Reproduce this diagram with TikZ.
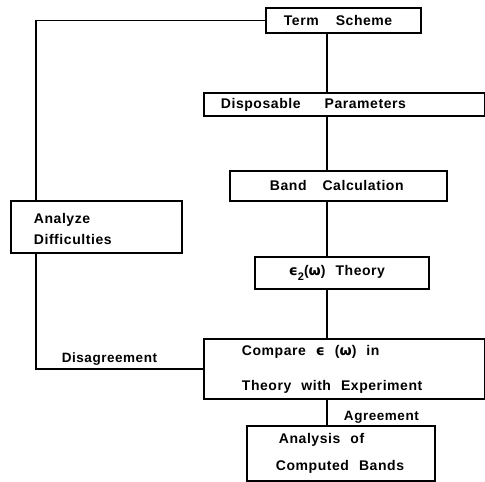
\documentclass[tikz,border=0pt]{standalone}
\usepackage{fontspec}
\setmainfont{Liberation Sans}[LetterSpace=4]
\newfontfamily\grk{DejaVu Sans}
\newcommand\widesp{\spaceskip=10pt plus 2pt\relax}
\newcommand\subtwo{\raisebox{-5pt}{\fontsize{11}{11}\selectfont 2}}
\usetikzlibrary{positioning}

\begin{document}
\begin{tikzpicture}[x=1pt, y=-1pt,
    box/.style n args={3}{draw, line width=1.8pt, anchor=north west, align=left,
        inner ysep=0pt, minimum width=#1pt, minimum height=#2pt, inner xsep=#3pt,
        text width=#1pt-2*#3pt,
        font=\bfseries\fontsize{14}{17}\selectfont},
    link/.style={line width=1.3pt},
    tag/.style={font=\bfseries\fontsize{13.5}{16}\selectfont}]
    \useasboundingbox (0,0) rectangle (485,482);

    % Main chain
    \node[box={155}{25}{18}] (term) at (265,7) {Term\hspace{17pt}Scheme};
    \node[box={281}{23}{17}] (disp) at (203,92) {Disposable\hspace{24pt}Parameters};
    \node[box={217}{30}{40}] (band) at (229,170) {Band\hspace{16pt}Calculation};
    \node[box={174}{32}{34}] (eps) at (254,256) {\widesp{\grk ϵ}\subtwo({\grk ω}) Theory};
    \node[box={281}{60}{38}] (cmp) at (203,338)
        {\widesp Compare {\grk ϵ} ({\grk ω}) in\\[18pt]Theory with Experiment};
    \node[box={188}{55}{26}] (res) at (246,425)
        {\widesp\hspace{6pt}Analysis of\\[10pt]\hspace{3pt}Computed Bands};

    % Feedback loop
    \node[box={171}{52}{23}] (ana) at (10,200) {\\[-2pt]Analyze\\[4pt]Difficulties};

    % Connectors
    \coordinate (spine) at (327,0);
    \coordinate (loop) at (36,0);
    \draw[link] (term.south -| spine) -- (disp.north -| spine);
    \draw[link] (disp.south -| spine) -- (band.north -| spine);
    \draw[link] (band.south -| spine) -- (eps.north -| spine);
    \draw[link] (eps.south -| spine) -- (cmp.north -| spine);
    \draw[link] (cmp.south -| spine) -- node[tag, right=13pt, pos=0.7] {Agreement} (res.north -| spine);
    \draw[link] (cmp.west) -- node[tag, above, pos=0.56] {Disagreement} (cmp.west -| loop)
        -- (ana.south -| loop);
    \draw[link] (ana.north -| loop) |- (term.west);
\end{tikzpicture}
\end{document}
